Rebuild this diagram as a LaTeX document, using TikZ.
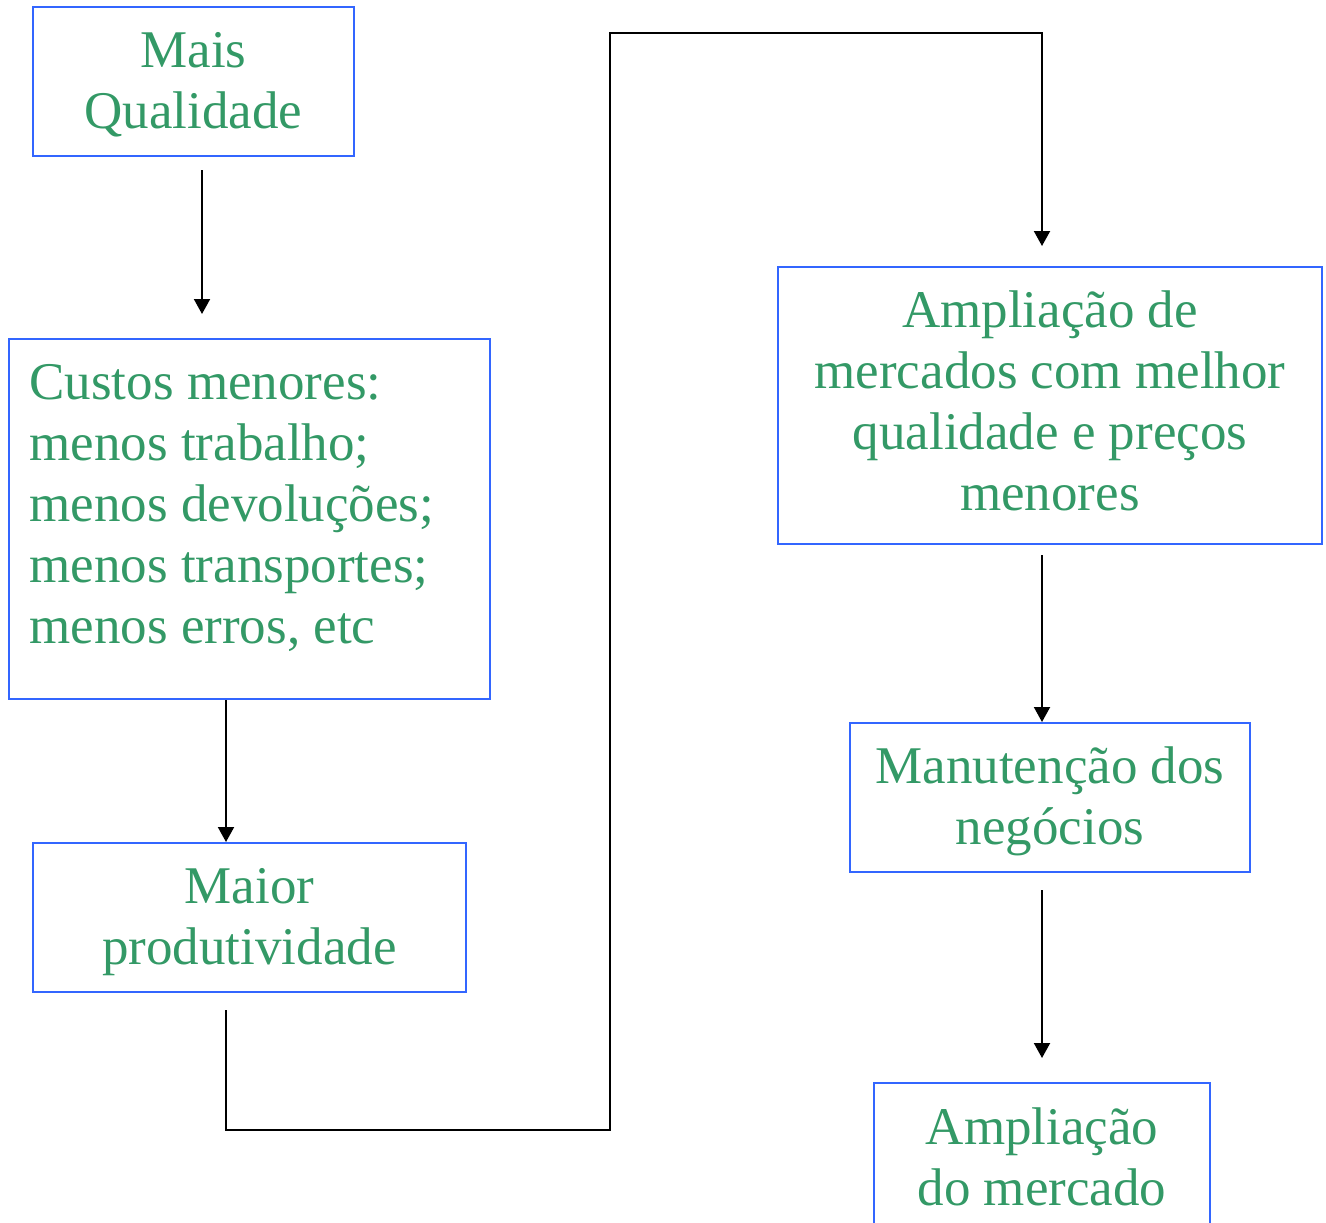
\documentclass[tikz,border=0pt]{standalone}
\usepackage{fontspec}
\setmainfont{Liberation Serif}
\usetikzlibrary{arrows.meta}

\definecolor{boxblue}{HTML}{3366FF}
\definecolor{textgreen}{HTML}{339966}

\begin{document}
\begin{tikzpicture}[x=1pt,y=-1pt,
    box/.style={draw=boxblue, line width=2pt, text=textgreen, inner xsep=0pt, inner ysep=0pt,
        font=\fontsize{53}{61}\selectfont, align=center, text height=40pt,
        execute at begin node={\spaceskip=0.25em\relax}},
    flow/.style={line width=2pt, -{Triangle[width=16pt,length=15pt]}}]
    \useasboundingbox (0,0) rectangle (1326,1223);

    \node[box, text width=321pt, minimum height=149pt, text depth=67pt] (mq) at (193.5,81.5) {Mais\\Qualidade};
    \node[box, text width=440pt, minimum width=481pt, minimum height=360pt, text depth=280pt, align=left] (cm) at (249.5,519)
        {Custos menores:\\menos trabalho;\\menos devoluções;\\menos transportes;\\menos erros, etc};
    \node[box, text width=433pt, minimum height=149pt, text depth=69pt] (mp) at (249.5,917.5) {Maior\\produtividade};

    \node[box, text width=544pt, minimum height=277pt, text depth=197pt] (am) at (1050,405.5)
        {Ampliação de\\mercados com melhor\\qualidade e preços\\menores};
    \node[box, text width=400pt, minimum height=149pt, text depth=68pt] (mn) at (1050,797.5) {Manutenção dos\\negócios};
    \node[box, text width=336pt, minimum height=149pt, text depth=67pt] (ad) at (1042,1157.5) {Ampliação\\do mercado};

    \coordinate (a1) at (202,170);
    \coordinate (a2) at (202,314);
    \draw[flow] (a1) -- (a2);

    \coordinate (k1) at (226,1010);
    \draw[flow] (cm.south -| k1) -- (mp.north -| k1);

    \coordinate (k3) at (610,1130);
    \coordinate (k5) at (1042,33);
    \coordinate (k6) at (1042,246);
    \draw[flow] (k1) |- (k3) |- (k5) -- (k6);

    \coordinate (m1) at (1042,555);
    \draw[flow] (m1) -- (mn.north -| m1);

    \coordinate (n1) at (1042,890);
    \coordinate (n2) at (1042,1058);
    \draw[flow] (n1) -- (n2);
\end{tikzpicture}
\end{document}
